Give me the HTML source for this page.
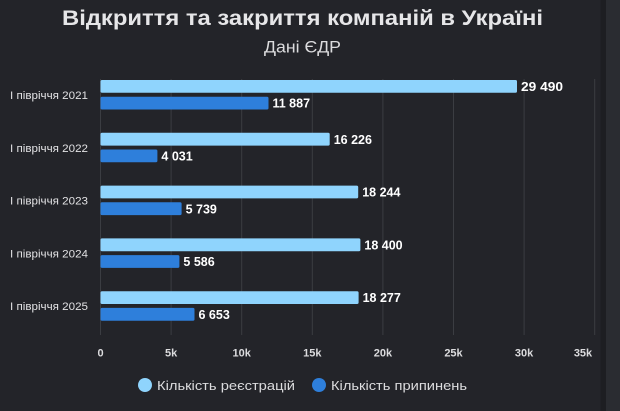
<!DOCTYPE html>
<html>
<head>
<meta charset="utf-8">
<style>
html,body{margin:0;padding:0;background:#232429;}
svg{display:block;}
text{font-family:"Liberation Sans","DejaVu Sans",sans-serif;}
</style>
</head>
<body>
<svg width="620" height="411" viewBox="0 0 620 411" xmlns="http://www.w3.org/2000/svg">
  <rect x="0" y="0" width="620" height="411" fill="#232429"/>
  <rect x="600.5" y="0" width="5.5" height="411" fill="#1d1e22"/>
  <rect x="606" y="0" width="14" height="411" fill="#2a2c31"/>

  <!-- title -->
  <text x="62" y="25" font-size="21" font-weight="bold" fill="#e6e6e8" textLength="481" lengthAdjust="spacingAndGlyphs">Відкриття та закриття компаній в Україні</text>
  <text x="264" y="52.5" font-size="16.5" fill="#dcdcde" textLength="77" lengthAdjust="spacingAndGlyphs">Дані ЄДР</text>

  <!-- grid -->
  <g stroke="#3b3d42" stroke-width="1">
    <line x1="100.5" y1="79" x2="100.5" y2="335"/>
    <line x1="171.1" y1="79" x2="171.1" y2="335"/>
    <line x1="241.7" y1="79" x2="241.7" y2="335"/>
    <line x1="312.3" y1="79" x2="312.3" y2="335"/>
    <line x1="382.9" y1="79" x2="382.9" y2="335"/>
    <line x1="453.5" y1="79" x2="453.5" y2="335"/>
    <line x1="524.1" y1="79" x2="524.1" y2="335"/>
    <line x1="594.7" y1="79" x2="594.7" y2="335"/>
  </g>

  <!-- bars -->
  <g fill="#8fd4fd">
    <rect x="100.5" y="80" width="416.5" height="12.8" rx="1.5"/>
    <rect x="100.5" y="132.8" width="229.2" height="12.8" rx="1.5"/>
    <rect x="100.5" y="185.6" width="257.7" height="12.8" rx="1.5"/>
    <rect x="100.5" y="238.4" width="259.9" height="12.8" rx="1.5"/>
    <rect x="100.5" y="291.2" width="258.1" height="12.8" rx="1.5"/>
  </g>
  <g fill="#2e7fdb">
    <rect x="100.5" y="96.7" width="168.0" height="12.8" rx="1.5"/>
    <rect x="100.5" y="149.5" width="56.9" height="12.8" rx="1.5"/>
    <rect x="100.5" y="202.3" width="81.1" height="12.8" rx="1.5"/>
    <rect x="100.5" y="255.1" width="78.9" height="12.8" rx="1.5"/>
    <rect x="100.5" y="307.9" width="94.0" height="12.8" rx="1.5"/>
  </g>

  <!-- value labels -->
  <g font-size="12.5" font-weight="bold" fill="#ffffff">
    <text x="521" y="91" textLength="42" lengthAdjust="spacingAndGlyphs">29 490</text>
    <text x="272.5" y="107.7">11 887</text>
    <text x="333.7" y="143.8">16 226</text>
    <text x="161.4" y="160.5">4 031</text>
    <text x="362.2" y="196.6">18 244</text>
    <text x="185.6" y="213.3">5 739</text>
    <text x="364.4" y="249.4">18 400</text>
    <text x="183.4" y="266.1">5 586</text>
    <text x="362.6" y="302.2">18 277</text>
    <text x="198.5" y="318.9">6 653</text>
  </g>

  <!-- category labels -->
  <g font-size="10.8" fill="#e2e2e4">
    <text x="10" y="99" textLength="78" lengthAdjust="spacingAndGlyphs">I півріччя 2021</text>
    <text x="10" y="151.8" textLength="78" lengthAdjust="spacingAndGlyphs">I півріччя 2022</text>
    <text x="10" y="204.6" textLength="78" lengthAdjust="spacingAndGlyphs">I півріччя 2023</text>
    <text x="10" y="257.4" textLength="78" lengthAdjust="spacingAndGlyphs">I півріччя 2024</text>
    <text x="10" y="310.2" textLength="78" lengthAdjust="spacingAndGlyphs">I півріччя 2025</text>
  </g>

  <!-- x tick labels -->
  <g font-size="11" font-weight="bold" fill="#dcdcde" text-anchor="middle">
    <text x="100.5" y="356.5">0</text>
    <text x="171.1" y="356.5">5k</text>
    <text x="241.7" y="356.5">10k</text>
    <text x="312.3" y="356.5">15k</text>
    <text x="382.9" y="356.5">20k</text>
    <text x="453.5" y="356.5">25k</text>
    <text x="524.1" y="356.5">30k</text>
    <text x="583" y="356.5">35k</text>
  </g>

  <!-- legend -->
  <circle cx="145" cy="385" r="7" fill="#8fd4fd"/>
  <text x="157" y="390" font-size="13" fill="#dcdcde" textLength="138" lengthAdjust="spacingAndGlyphs">Кількість реєстрацій</text>
  <circle cx="319" cy="385" r="7" fill="#2e7fdb"/>
  <text x="331" y="390" font-size="13" fill="#dcdcde" textLength="136" lengthAdjust="spacingAndGlyphs">Кількість припинень</text>
</svg>
</body>
</html>
